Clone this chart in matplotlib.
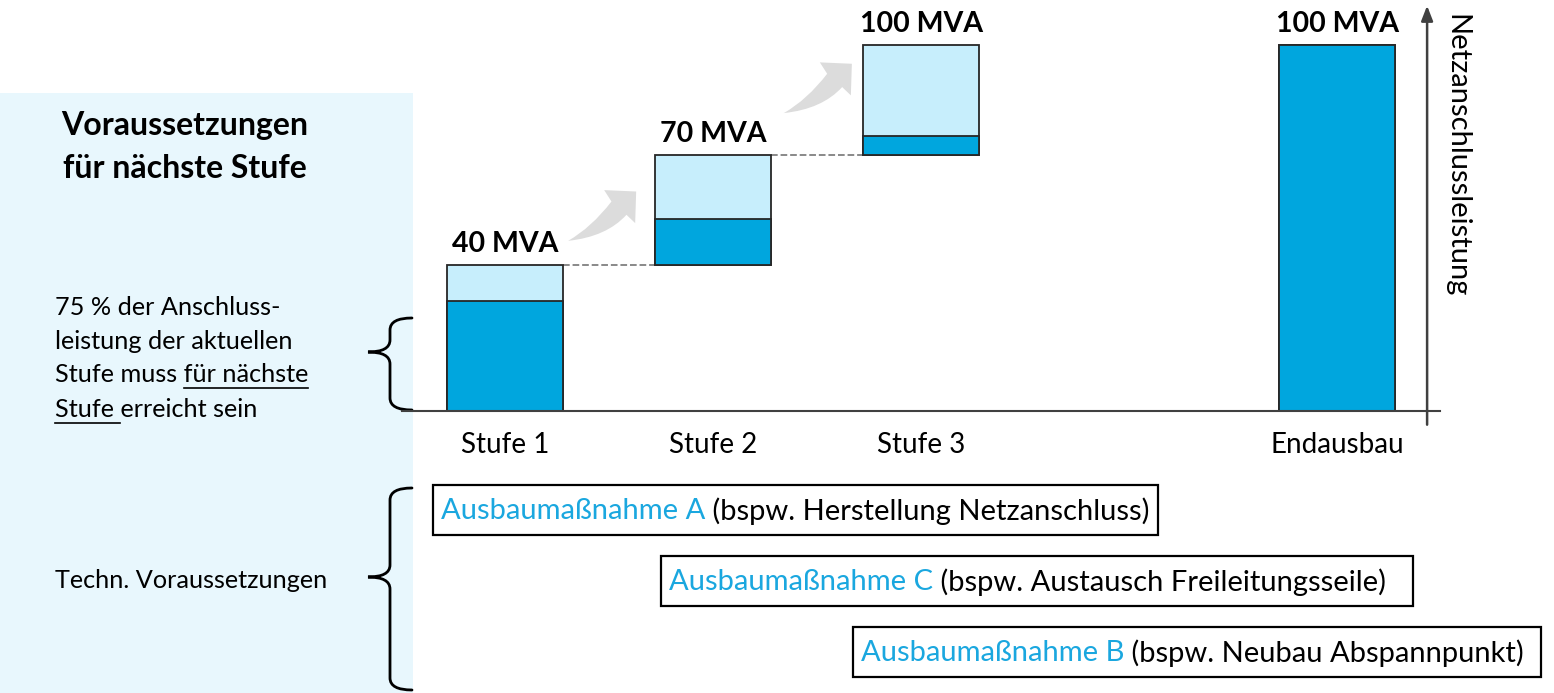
import numpy as np
import matplotlib
matplotlib.use("Agg")
from matplotlib import pyplot as plt
from matplotlib.patches import Rectangle, PathPatch
from matplotlib.path import Path

plt.rcParams['font.family'] = ['Lato', 'DejaVu Sans']

# data
stages = ["Stufe 1", "Stufe 2", "Stufe 3", "Endausbau"]
positions = [0, 1, 2, 4]
levels = [40, 70, 100, 100]          # MVA at each stage
bottoms = [0, 40, 70, 0]             # previous stage level
thresholds = [30, 52.5, 75, 100]     # 75 % of stage level
value_labels = ["40 MVA", "70 MVA", "100 MVA", "100 MVA"]

measures = ["Ausbaumaßnahme A", "Ausbaumaßnahme C", "Ausbaumaßnahme B"]
examples = [" (bspw. Herstellung Netzanschluss)",
            " (bspw. Austausch Freileitungsseile)",
            " (bspw. Neubau Abspannpunkt)"]

DARK = '#00A6DE'
LIGHT = '#C7EEFC'
PANEL = '#E8F7FD'
EDGE = '#262626'
W, H = 1554, 693

fig = plt.figure(figsize=(W / 100, H / 100), dpi=100)

# overlay in image pixels (y down)
bg = fig.add_axes([0, 0, 1, 1], zorder=0)
bg.set_xlim(0, W)
bg.set_ylim(H, 0)
bg.axis('off')
bg.add_patch(Rectangle((0, 93), 413, H - 93, color=PANEL, lw=0))

# main chart: y=0 at pixel 411, 3.66 px per MVA, 208 px per stage
ax = fig.add_axes([400 / W, (H - 411) / H, 1040 / W, 411 / H], zorder=1)
ax.patch.set_alpha(0)
ax.set_xlim(-0.505, 4.495)
ax.set_ylim(0, 411 / 3.66)
for s in ax.spines.values():
    s.set_visible(False)
ax.set_yticks([])
ax.set_xticks(positions, stages, fontsize=20)
ax.tick_params(axis='x', length=0, pad=15)

bw = 0.557
lv = np.array(levels, float)
bt = np.array(bottoms, float)
th = np.array(thresholds, float)
ax.bar(positions, lv - bt, bottom=bt, width=bw, color=LIGHT, edgecolor=EDGE, lw=1.3, zorder=3)
ax.bar(positions, th - bt, bottom=bt, width=bw, color=DARK, edgecolor=EDGE, lw=1.3, zorder=4)

for p, l, t in zip(positions, levels, value_labels):
    ax.annotate(t, (p, l), xytext=(0, 9), textcoords='offset points',
                ha='center', va='baseline', fontsize=20.5, fontweight='bold')

for i in range(2):
    ax.plot([positions[i] + bw / 2, positions[i + 1] - bw / 2], [levels[i], levels[i]],
            ls='--', color='#808080', lw=1.3, zorder=2)

# axes lines
ax.axhline(0, xmin=0.002, xmax=1, color='#404040', lw=1.5, zorder=5, clip_on=False)
ax.annotate('', xy=(4.433, 111.5), xytext=(4.433, -4.5),
            arrowprops=dict(arrowstyle='-|>,head_width=0.35,head_length=0.9',
                            color='#404040', lw=1.8), annotation_clip=False)
fig.text(1456 / W, 1 - 156 / H, "Netzanschlussleistung", rotation=-90,
         ha='center', va='center', fontsize=21)

# gray progress arrows (shape in pixels, anchored to stage tops)
fig.canvas.draw()
shape = [(0, 0), (23.3, -13.3), (43.3, -39.3), (36, -50.7), (68, -49.3),
         (67, -17.7), (58.3, -26), (38.3, -4), (0, 0), (0, 0)]
codes = [Path.MOVETO, Path.CURVE3, Path.CURVE3, Path.LINETO, Path.LINETO,
         Path.LINETO, Path.LINETO, Path.CURVE3, Path.CURVE3, Path.CLOSEPOLY]
anchors = [(positions[0] + bw / 2 + 0.025, levels[0] + 6.5),
           (positions[1] + bw / 2 + 0.062, levels[1] + 11.4)]
for a in anchors:
    ox, oy = ax.transData.transform(a)
    verts = [(ox + dx, oy - dy) for dx, dy in shape]
    fig.patches.append(PathPatch(Path(verts, codes), facecolor='#DCDCDC',
                                 edgecolor='none', transform=None, figure=fig))

# left panel texts
bg.text(185, 135, "Voraussetzungen", ha='center', va='baseline', fontsize=23, fontweight='bold')
bg.text(185, 178, "für nächste Stufe", ha='center', va='baseline', fontsize=23, fontweight='bold')

fs = 18.2
lines = ["75 % der Anschluss-", "leistung der aktuellen", "Stufe muss für nächste", "Stufe erreicht sein"]
baselines = [315, 349, 382, 417]
r = fig.canvas.get_renderer()
for s, y in zip(lines, baselines):
    bg.text(55, y, s, ha='left', va='baseline', fontsize=fs)


def width(s, **kw):
    t = bg.text(0, 0, s, **kw)
    w = t.get_window_extent(r).width
    t.remove()
    return w


full = width(lines[2], fontsize=fs)
part = width("für nächste", fontsize=fs)
bg.plot([55 + full - part, 55 + full], [388, 388], color='k', lw=1.2)
bg.plot([55, 55 + width("Stufe", fontsize=fs) + 6], [423, 423], color='k', lw=1.2)

bg.text(55, 588, "Techn. Voraussetzungen", ha='left', va='baseline', fontsize=fs)


# braces
def brace(x_tip, x_end, y0, y1, ym):
    xm = (x_tip + x_end) / 2
    v = [(x_end, y0), (xm, y0), (xm, y0 + 12),
         (xm, ym - 12), (xm, ym), (x_tip, ym),
         (xm, ym), (xm, ym + 12),
         (xm, y1 - 12), (xm, y1), (x_end, y1)]
    c = [Path.MOVETO, Path.CURVE3, Path.CURVE3,
         Path.LINETO, Path.CURVE3, Path.CURVE3,
         Path.CURVE3, Path.CURVE3,
         Path.LINETO, Path.CURVE3, Path.CURVE3]
    bg.add_patch(PathPatch(Path(v, c), fill=False, lw=2, edgecolor='k', capstyle='round'))


brace(368, 412, 318, 410, 352)
brace(368, 412, 488, 690, 577)

# measure boxes
boxes = [(433, 485, 725), (661, 556, 752), (853, 627, 688)]
for (bx, by, bwid), m, e in zip(boxes, measures, examples):
    bg.add_patch(Rectangle((bx, by), bwid, 50, fill=False, edgecolor='k', lw=1.6, zorder=3))
    t = bg.text(bx + 8, by + 26, m, color='#1AA7DF', ha='left', va='center', fontsize=21)
    wm = t.get_window_extent(r).width
    bg.text(bx + 8 + wm, by + 26, e, color='k', ha='left', va='center', fontsize=21)

fig.savefig("out.png", dpi=100)
